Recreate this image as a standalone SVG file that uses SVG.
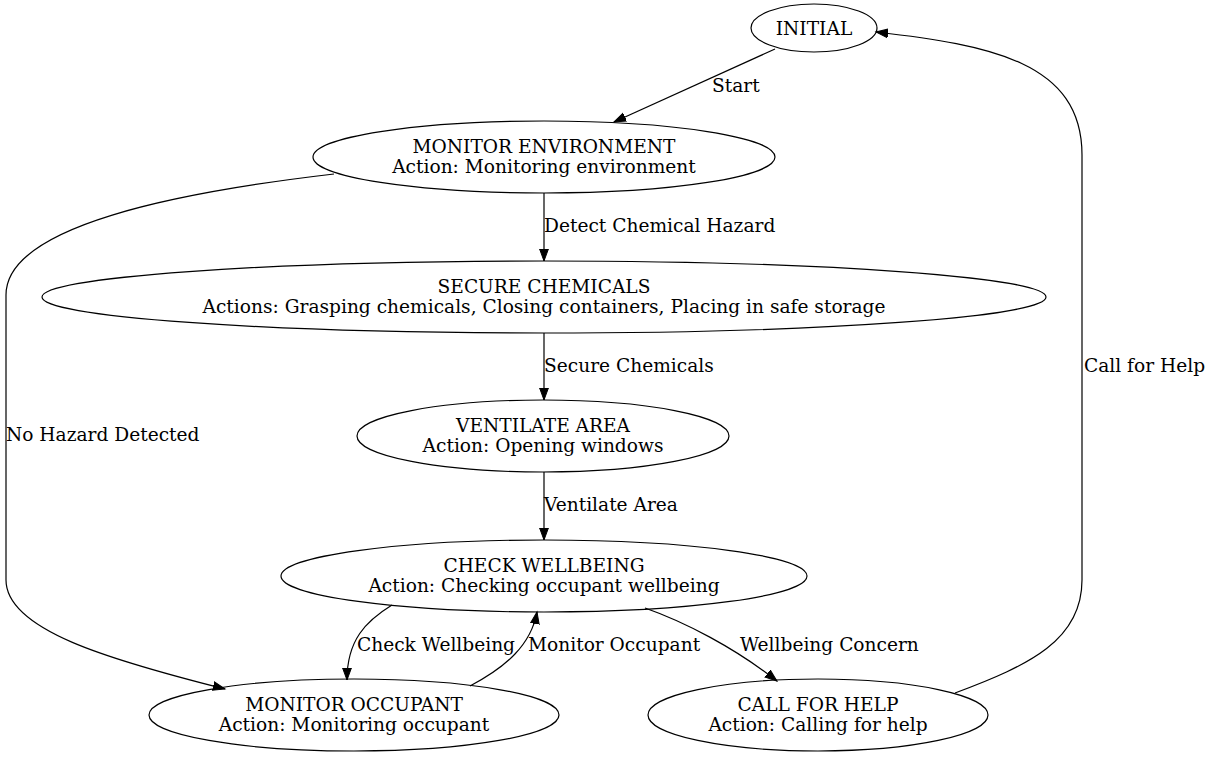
<svg xmlns="http://www.w3.org/2000/svg" width="1209" height="757" viewBox="0 0 1209 757">
<defs>
<style>
.n ellipse{fill:none;stroke:#000;stroke-width:1.2}
text{font-family:"DejaVu Serif","Liberation Serif",serif;font-size:18.6px;fill:#000}
.n text{text-anchor:middle}
.e path{fill:none;stroke:#000;stroke-width:1.2}
</style>
<marker id="ah" markerUnits="userSpaceOnUse" markerWidth="14" markerHeight="12" refX="12" refY="5" orient="auto" viewBox="0 0 14 10">
<polygon points="0,0.6 12,5 0,9.4" fill="#000" stroke="#000" stroke-width="1"/>
</marker>
</defs>
<rect width="1209" height="757" fill="#fff"/>
<g id="edges" class="e">
<path d="M775,49 L614,122" marker-end="url(#ah)"/>
<text x="712" y="92">Start</text>
<path d="M544,193 L544,261" marker-end="url(#ah)"/>
<text x="544" y="232">Detect Chemical Hazard</text>
<path d="M544,333 L544,400" marker-end="url(#ah)"/>
<text x="544" y="372">Secure Chemicals</text>
<path d="M544,472 L544,540" marker-end="url(#ah)"/>
<text x="544" y="511">Ventilate Area</text>
<path d="M392,605 C366,621 347,640 347,680" marker-end="url(#ah)"/>
<text x="357" y="651">Check Wellbeing</text>
<path d="M470,686 C506,667 531,645 537,612" marker-end="url(#ah)"/>
<text x="528" y="651">Monitor Occupant</text>
<path d="M645,608 C685,622 735,648 777,681" marker-end="url(#ah)"/>
<text x="740" y="651">Wellbeing Concern</text>
<path d="M334,174 C180,192 6,225 6,295 L6,580 C6,630 110,660 225,689" marker-end="url(#ah)"/>
<text x="6" y="441">No Hazard Detected</text>
<path d="M955,693 C1030,665 1082,640 1082,580 L1082,155 C1082,62 990,45 876,32" marker-end="url(#ah)"/>
<text x="1084" y="372">Call for Help</text>
</g>
<g id="initial" class="n">
<ellipse cx="814" cy="28" rx="63" ry="24"/>
<text x="814" y="35">INITIAL</text>
</g>
<g id="monitor_environment" class="n">
<ellipse cx="544" cy="157" rx="231" ry="36"/>
<text x="544" y="153">MONITOR ENVIRONMENT</text>
<text x="544" y="173">Action: Monitoring environment</text>
</g>
<g id="secure_chemicals" class="n">
<ellipse cx="544" cy="297" rx="502" ry="36"/>
<text x="544" y="293">SECURE CHEMICALS</text>
<text x="544" y="313">Actions: Grasping chemicals, Closing containers, Placing in safe storage</text>
</g>
<g id="ventilate_area" class="n">
<ellipse cx="543" cy="436" rx="186" ry="36"/>
<text x="543" y="432">VENTILATE AREA</text>
<text x="543" y="452">Action: Opening windows</text>
</g>
<g id="check_wellbeing" class="n">
<ellipse cx="544" cy="576" rx="263" ry="36"/>
<text x="544" y="572">CHECK WELLBEING</text>
<text x="544" y="592">Action: Checking occupant wellbeing</text>
</g>
<g id="monitor_occupant" class="n">
<ellipse cx="354" cy="715" rx="205" ry="36"/>
<text x="354" y="711">MONITOR OCCUPANT</text>
<text x="354" y="731">Action: Monitoring occupant</text>
</g>
<g id="call_for_help" class="n">
<ellipse cx="818" cy="715" rx="170" ry="36"/>
<text x="818" y="711">CALL FOR HELP</text>
<text x="818" y="731">Action: Calling for help</text>
</g>
</svg>
